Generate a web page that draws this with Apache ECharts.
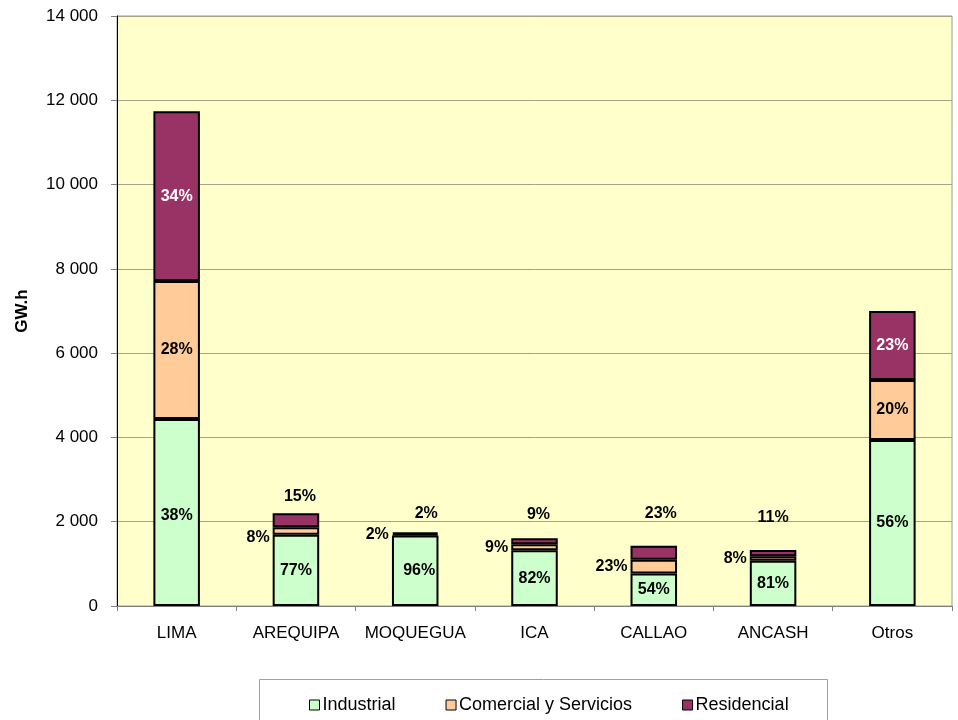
<!DOCTYPE html>
<html>
<head>
<meta charset="utf-8">
<script src="https://cdn.jsdelivr.net/npm/echarts@6/dist/echarts.min.js"></script>
<style>html,body{margin:0;padding:0;background:#fff}#c{width:958px;height:720px}</style>
</head>
<body>
<div id="c"></div>
<script>
const categories = ['LIMA','AREQUIPA','MOQUEGUA','ICA','CALLAO','ANCASH','Otros'];
const industrial = [4440, 1690, 1670, 1320, 770, 1075, 3940];
const comercial  = [3270, 180, 38, 145, 330, 105, 1420];
const residencial= [4030, 330, 38, 145, 330, 150, 1640];
const seriesNames = ['Industrial','Comercial y Servicios','Residencial'];
const yTicks = [0, 2000, 4000, 6000, 8000, 10000, 12000, 14000];

const FONT = 'Arial, "Liberation Sans", sans-serif';
const totals = categories.map((_, i) => industrial[i] + comercial[i] + residencial[i]);
const pct = (v, i) => Math.round(v / totals[i] * 100) + '%';
const bigBars = [0, 6];

// label placement (style only)
const resTopDist = [0, 9, 11, 16, 24, 24, 0];
const resTopOffX = [0, 4, 11, 4, 7, 0, 0];

function mkData(arr, kind) {
  return arr.map((v, i) => {
    const lab = { show: true, fontFamily: FONT, fontWeight: 'bold', fontSize: 16, color: '#000',
      formatter: () => pct(v, i) };
    if (kind === 'ind') {
      lab.position = 'inside';
      if (i === 2) lab.offset = [4, 0];
      if (i === 0) lab.offset = [0, 3];
    } else if (kind === 'com') {
      if (bigBars.includes(i)) lab.position = 'inside';
      else { lab.position = 'left'; lab.distance = 3; lab.offset = [0, i === 1 ? 7 : 0]; }
    } else {
      if (bigBars.includes(i)) { lab.position = 'inside'; lab.color = '#fff'; }
      else { lab.position = 'top'; lab.distance = resTopDist[i]; lab.offset = [resTopOffX[i], 0]; }
    }
    return { value: v, label: lab };
  });
}

const colors = ['#CCFFCC', '#FFCC99', '#993366'];
const chart = echarts.init(document.getElementById('c'), null, { renderer: 'canvas' });
chart.setOption({
  animation: false,
  backgroundColor: '#fff',
  textStyle: { fontFamily: FONT },
  grid: { left: 117, right: 6, top: 16, bottom: 114, show: true, backgroundColor: '#FFFFCC', borderColor: '#9a9a9a', borderWidth: 1 },
  graphic: [{
    type: 'rect', shape: { x: 259.5, y: 679.5, width: 568, height: 50 },
    style: { fill: '#fff', stroke: '#a0a0a0', lineWidth: 1 }, z: 0
  }],
  legend: {
    data: seriesNames, left: 304, top: 691, itemGap: 50, itemWidth: 10, itemHeight: 10,
    icon: 'rect', textStyle: { fontFamily: FONT, fontSize: 18, color: '#000', padding: [0, 0, 0, -2] },
    itemStyle: { borderColor: '#000', borderWidth: 1 }, z: 10
  },
  xAxis: {
    type: 'category', data: categories,
    axisLine: { lineStyle: { color: '#808080', width: 1 } },
    axisTick: { show: true, length: 5, lineStyle: { color: '#808080' } },
    axisLabel: { fontFamily: FONT, fontSize: 17, color: '#000', margin: 19, interval: 0 }
  },
  yAxis: {
    type: 'value', min: yTicks[0], max: yTicks[yTicks.length - 1], interval: 2000,
    name: 'GW.h', nameLocation: 'middle', nameGap: 86,
    nameTextStyle: { fontFamily: FONT, fontWeight: 'bold', fontSize: 17, color: '#000' },
    axisLine: { show: true, lineStyle: { color: '#000', width: 1 } },
    axisTick: { show: true, length: 6, lineStyle: { color: '#808080' } },
    axisLabel: { fontFamily: FONT, fontSize: 17, color: '#000', margin: 19,
      formatter: v => String(v).replace(/\B(?=(\d{3})+(?!\d))/g, ' ') },
    splitLine: { show: true, lineStyle: { color: '#a3a38a', width: 1 } }
  },
  series: [
    { name: seriesNames[0], type: 'bar', stack: 'total', barWidth: '39%', data: mkData(industrial, 'ind'),
      itemStyle: { color: colors[0], borderColor: '#000', borderWidth: 2 } },
    { name: seriesNames[1], type: 'bar', stack: 'total', data: mkData(comercial, 'com'),
      itemStyle: { color: colors[1], borderColor: '#000', borderWidth: 2 } },
    { name: seriesNames[2], type: 'bar', stack: 'total', data: mkData(residencial, 'res'),
      itemStyle: { color: colors[2], borderColor: '#000', borderWidth: 2 } }
  ]
});
</script>
</body>
</html>
